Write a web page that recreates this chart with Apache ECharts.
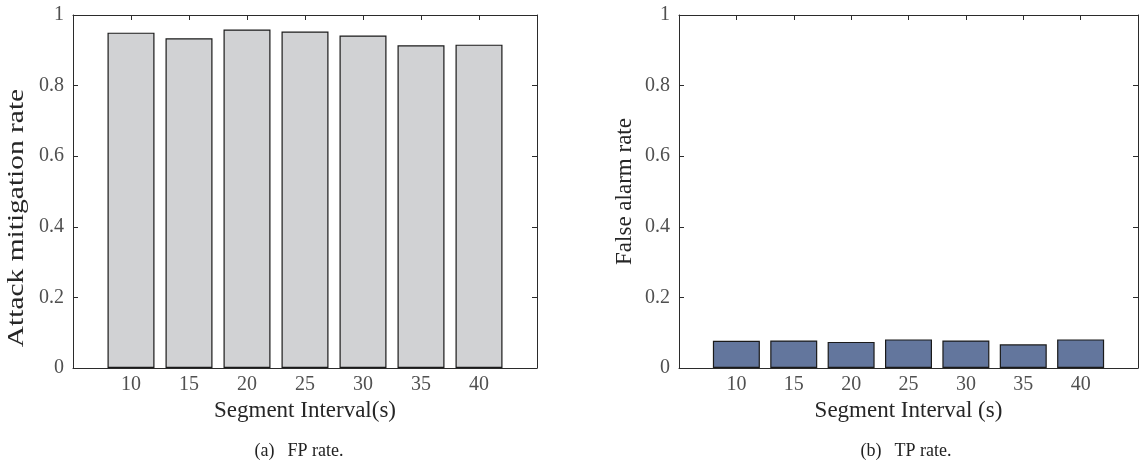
<!DOCTYPE html>
<html>
<head>
<meta charset="utf-8">
<script src="https://cdn.jsdelivr.net/npm/echarts@6/dist/echarts.min.js"></script>
<style>
  html, body { margin: 0; padding: 0; background: #fff; }
  #chart { width: 1141px; height: 473px; }
</style>
</head>
<body>
<div id="chart"></div>
<script>
// Segment intervals in seconds (bar positions on both panels)
const intervals = [10, 15, 20, 25, 30, 35, 40];
// Panel (a): attack mitigation rate per segment interval
const mitigationRate = [0.950, 0.934, 0.959, 0.953, 0.942, 0.914, 0.916];
// Panel (b): false alarm rate per segment interval
const falseAlarmRate = [0.077, 0.078, 0.074, 0.081, 0.078, 0.067, 0.081];
// Y tick labels
const yTickLabels = { 0: '0', 0.2: '0.2', 0.4: '0.4', 0.6: '0.6', 0.8: '0.8', 1: '1' };
// Sub-figure captions: [tag, text]
const captions = [['(a)', 'FP rate.'], ['(b)', 'TP rate.']];
const leftYTitle = 'Attack mitigation rate';

const FONT = '"Liberation Serif", "Times New Roman", serif';
const AXIS_COLOR = '#2b2b2b';
const LABEL_COLOR = '#505050';

const grids = [
  { left: 73, top: 15, width: 464, height: 353 },
  { left: 679, top: 15, width: 465, height: 353 }
];

function xAxes(gridIndex, name) {
  const base = {
    type: 'value', gridIndex, min: 5, max: 45, interval: 5,
    splitLine: { show: false },
    axisLine: { show: true, onZero: false, lineStyle: { color: AXIS_COLOR, width: 1 } }
  };
  return [
    Object.assign({}, base, {
      position: 'bottom',
      name, nameLocation: 'middle', nameGap: 30,
      nameTextStyle: { fontFamily: FONT, fontSize: 23, color: '#262626' },
      axisTick: { show: false },
      axisLabel: {
        fontFamily: FONT, fontSize: 20, color: LABEL_COLOR, margin: 7,
        formatter: v => intervals.includes(v) ? String(v) : ''
      }
    }),
    Object.assign({}, base, {
      position: 'top',
      axisTick: { show: true, inside: true, length: 5, lineStyle: { color: AXIS_COLOR } },
      axisLabel: { show: false }
    })
  ];
}

function yAxes(gridIndex, name, nameGap) {
  const base = {
    type: 'value', gridIndex, min: 0, max: 1, interval: 0.2,
    splitLine: { show: false },
    axisLine: { show: true, onZero: false, lineStyle: { color: AXIS_COLOR, width: 1 } },
    axisTick: { show: true, inside: true, length: 5, lineStyle: { color: AXIS_COLOR } }
  };
  return [
    Object.assign({}, base, {
      position: 'left',
      name, nameLocation: 'middle', nameGap,
      nameTextStyle: { fontFamily: FONT, fontSize: 23, color: '#262626' },
      axisLabel: {
        fontFamily: FONT, fontSize: 20, color: LABEL_COLOR, margin: 9,
        formatter: v => yTickLabels[Math.round(v * 10) / 10] ?? ''
      }
    }),
    Object.assign({}, base, { position: 'right', axisLabel: { show: false } })
  ];
}

function caption(idx, centerX) {
  const [tag, text] = captions[idx];
  const style = { fontFamily: FONT, fontSize: 18, fontWeight: 'normal', color: '#222' };
  return {
    text: '{t|' + tag + '}{c|' + text + '}',
    left: centerX, top: 437, textAlign: 'center',
    textStyle: {
      fontWeight: 'normal',
      rich: {
        t: Object.assign({ padding: [0, 13, 0, 0] }, style),
        c: style
      }
    }
  };
}

const option = {
  animation: false,
  backgroundColor: '#fff',
  grid: grids,
  xAxis: [...xAxes(0, 'Segment Interval(s)'), ...xAxes(1, 'Segment Interval (s)')],
  // left panel's y title is drawn as a stretched graphic text below
  yAxis: [...yAxes(0, '', 42), ...yAxes(1, 'False alarm rate', 43)],
  title: [caption(0, 294), caption(1, 901)],
  graphic: [{
    type: 'text',
    x: 17, y: 218,
    rotation: Math.PI / 2,
    scaleX: 1.28,
    style: {
      text: leftYTitle,
      font: '23px ' + FONT,
      fill: '#262626',
      textAlign: 'center',
      textVerticalAlign: 'middle'
    }
  }],
  series: [
    {
      type: 'bar', xAxisIndex: 0, yAxisIndex: 0, barWidth: 47,
      data: intervals.map((x, i) => [x, mitigationRate[i]]),
      itemStyle: { color: '#d1d2d4', borderColor: '#1a1a1a', borderWidth: 1.2 }
    },
    {
      type: 'bar', xAxisIndex: 2, yAxisIndex: 2, barWidth: 47,
      data: intervals.map((x, i) => [x, falseAlarmRate[i]]),
      itemStyle: { color: '#63769d', borderColor: '#1a1a1a', borderWidth: 1.2 }
    }
  ]
};

const chart = echarts.init(document.getElementById('chart'), null, { renderer: 'canvas' });
chart.setOption(option);
</script>
</body>
</html>
